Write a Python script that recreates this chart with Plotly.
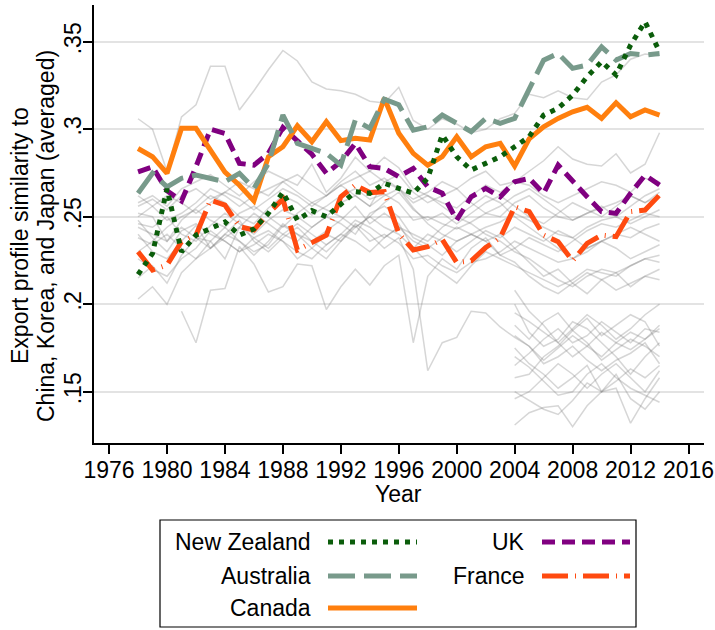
import plotly.graph_objects as go

# ---------------- data ----------------
years = list(range(1978, 2015))
years_81 = list(range(1981, 2015))
years_04 = list(range(2004, 2015))

new_zealand = [.217, .229, .266, .230, .2395, .243, .247, .2395, .243, .252, .264, .248, .2535,
               .250, .2567, .2643, .2634, .2691, .2662, .2634, .272, .2967, .2843, .2767, .2805,
               .2843, .290, .2957, .3081, .312, .3195, .330, .3386, .331, .3481, .3614, .3443]
australia = [.2634, .2748, .2671, .272, .2738, .272, .270, .2748, .2662, .2805, .3081, .2919, .289,
             .2862, .2795, .3053, .3005, .3172, .314, .2995, .3014, .3081, .3034, .2986, .3062,
             .3034, .3062, .3228, .3395, .3433, .3348, .3367, .3471, .3395, .3433, .3424, .3433]
canada = [.289, .2843, .2748, .3005, .3005, .2881, .2755, .268, .259, .2843, .290, .302, .2929,
          .3043, .2935, .2948, .2938, .3177, .2977, .2862, .2795, .2843, .2957, .2843, .290,
          .2919, .279, .2945, .3014, .3062, .310, .3125, .3062, .3151, .3071, .311, .3081]
uk = [.2757, .2785, .2648, .259, .2786, .3, .2976, .2805, .2795, .2862, .301, .293, .2857, .2748,
      .2814, .2919, .2786, .2776, .2729, .2776, .2671, .2634, .2481, .2614, .2662, .2614, .270,
      .2719, .2634, .2795, .270, .2614, .2529, .2519, .2634, .2738, .2681]
france = [.230, .2195, .2224, .2357, .2395, .2595, .2567, .2443, .2424, .252, .2600, .231, .2352,
          .2395, .2614, .2681, .2638, .2643, .2405, .231, .2329, .237, .2238, .2248, .2324, .238,
          .2557, .2529, .2395, .2357, .2248, .2348, .2395, .2386, .2529, .2538, .2624]

# other countries (grey background lines), 1978-2014
grey_full = [
    [.306, .300, .276, .307, .314, .336, .336, .311, .322, .334, .345, .339, .327, .323, .322, .320,
     .316, .315, .324, .305, .300, .306, .303, .298, .300, .306, .309, .320, .318, .322, .318, .317,
     .327, .331, .340, .343, .342],
    [.256, .260, .254, .262, .266, .260, .264, .270, .266, .262, .270, .274, .268, .262, .268, .272,
     .276, .270, .266, .260, .264, .270, .266, .272, .276, .268, .270, .276, .282, .290, .283, .280,
     .279, .286, .275, .280, .298],
    [.252, .250, .236, .248, .255, .262, .258, .250, .246, .255, .262, .258, .251, .256, .262, .266,
     .260, .263, .258, .248, .250, .246, .243, .247, .252, .250, .258, .262, .255, .250, .248, .252,
     .255, .258, .262, .258, .264],
    [.246, .244, .250, .240, .236, .245, .252, .246, .240, .248, .254, .250, .244, .250, .258, .262,
     .256, .262, .266, .255, .246, .240, .236, .240, .244, .247, .252, .248, .244, .240, .238, .244,
     .248, .250, .246, .250, .254],
    [.240, .230, .226, .236, .245, .232, .240, .236, .230, .234, .245, .240, .236, .230, .238, .245,
     .236, .240, .235, .226, .228, .222, .218, .224, .226, .230, .236, .232, .228, .224, .226, .232,
     .236, .240, .238, .243, .246],
    [.215, .222, .212, .228, .238, .236, .226, .244, .252, .246, .240, .236, .244, .250, .246, .240,
     .252, .256, .250, .238, .234, .228, .236, .240, .236, .228, .232, .238, .234, .230, .236, .242,
     .246, .244, .248, .252, .250],
    [.258, .262, .256, .266, .270, .274, .268, .262, .270, .276, .272, .268, .280, .264, .272, .284,
     .276, .284, .278, .266, .262, .258, .255, .262, .268, .264, .270, .268, .262, .258, .262, .266,
     .270, .268, .264, .272, .270],
    [.203, .210, .200, .218, .226, .232, .240, .248, .236, .230, .238, .244, .236, .242, .248, .256,
     .246, .252, .246, .232, .224, .218, .212, .222, .230, .226, .222, .218, .214, .210, .214, .220,
     .218, .216, .222, .226, .228],
    [.238, .234, .240, .232, .226, .236, .244, .236, .228, .236, .246, .240, .232, .226, .236, .246,
     .240, .232, .238, .220, .162, .178, .181, .196, .195, .187, .181, .176, .168, .175, .182, .176,
     .170, .178, .184, .180, .186],
    [.262, .256, .248, .252, .258, .266, .262, .256, .262, .266, .270, .264, .258, .262, .270, .276,
     .268, .272, .266, .258, .262, .256, .250, .256, .262, .258, .250, .244, .238, .232, .226, .230,
     .236, .232, .226, .230, .234],
    [.248, .238, .230, .242, .246, .240, .236, .230, .238, .242, .236, .230, .226, .234, .240, .236,
     .230, .238, .244, .240, .236, .244, .250, .246, .240, .236, .230, .226, .220, .214, .210, .216,
     .220, .218, .222, .226, .224],
    [.230, .236, .244, .250, .254, .248, .244, .252, .256, .250, .244, .252, .258, .254, .250, .244,
     .250, .258, .264, .254, .248, .252, .246, .252, .258, .262, .256, .250, .246, .252, .258, .254,
     .250, .256, .262, .258, .262],
    [.244, .240, .236, .244, .238, .232, .238, .244, .238, .232, .240, .246, .240, .234, .240, .248,
     .244, .238, .244, .236, .232, .238, .244, .240, .236, .240, .232, .224, .216, .220, .212, .206,
     .214, .218, .210, .216, .220],
    [.226, .220, .216, .226, .232, .242, .236, .230, .234, .240, .236, .226, .232, .240, .236, .244,
     .250, .244, .240, .232, .240, .236, .230, .236, .242, .238, .244, .240, .236, .242, .238, .232,
     .236, .240, .244, .240, .236],
    [.250, .256, .262, .258, .252, .258, .264, .260, .254, .260, .266, .262, .256, .262, .268, .262,
     .256, .270, .274, .264, .258, .262, .266, .258, .252, .256, .262, .266, .260, .254, .248, .252,
     .256, .250, .256, .262, .266],
]
# a country observed from 1981
grey_81 = [.196, .178, .208, .209, .233, .223, .207, .210, .223, .222, .197, .210, .220, .211, .222,
           .228, .178, .216, .226, .220, .232, .238, .228, .224, .216, .210, .206, .212, .218, .214,
           .208, .212, .216, .214]
# countries observed from 2004
grey_04 = [
    [.131, .138, .141, .142, .130, .142, .150, .152, .132, .146, .158],
    [.150, .145, .140, .137, .145, .155, .150, .160, .146, .140, .150],
    [.175, .166, .160, .152, .158, .165, .150, .156, .163, .158, .165],
    [.200, .184, .176, .180, .190, .186, .178, .170, .160, .170, .178],
    [.165, .172, .180, .186, .178, .182, .190, .184, .178, .186, .184],
    [.188, .180, .190, .195, .185, .192, .182, .188, .194, .190, .176],
    [.158, .160, .170, .176, .185, .178, .168, .174, .180, .176, .170],
    [.195, .190, .184, .178, .170, .176, .184, .178, .174, .180, .188],
    [.182, .176, .166, .170, .176, .168, .162, .168, .172, .178, .166],
    [.146, .150, .158, .166, .160, .152, .160, .166, .158, .150, .162],
    [.170, .164, .156, .148, .150, .160, .166, .158, .152, .148, .144],
    [.208, .196, .188, .178, .186, .194, .188, .180, .186, .194, .200],
]

y_ticks = [0.15, 0.2, 0.25, 0.3, 0.35]
y_ticklabels = [".15", ".2", ".25", ".3", ".35"]
x_ticks = list(range(1976, 2017, 4))

# ---------------- styling ----------------
W, H = 715, 630
L, R, T, B = 94, 704, 5, 443
FONT = "Liberation Sans, Arial, Helvetica, sans-serif"
FS = 23


def px(x):
    return (x - L) / (R - L)


def py(y):
    return (B - y) / (B - T)


GREY = "rgba(120,120,120,0.3)"
styles = {
    "New Zealand": dict(color="#0b5d0b", dash="5px,6px"),
    "Australia": dict(color="#789a8b", dash="27px,9px"),
    "Canada": dict(color="#ff7f0e", dash="solid"),
    "UK": dict(color="#800080", dash="13px,7px"),
    "France": dict(color="#ff4a10", dash="26px,7px,1px,7px"),
}
LW = 5

fig = go.Figure()
for s in grey_full:
    fig.add_trace(go.Scatter(x=years, y=s, mode="lines", line=dict(color=GREY, width=1.5),
                             hoverinfo="skip", showlegend=False))
fig.add_trace(go.Scatter(x=years_81, y=grey_81, mode="lines", line=dict(color=GREY, width=1.5),
                         hoverinfo="skip", showlegend=False))
for s in grey_04:
    fig.add_trace(go.Scatter(x=years_04, y=s, mode="lines", line=dict(color=GREY, width=1.5),
                             hoverinfo="skip", showlegend=False))

main = [("France", france), ("UK", uk), ("Canada", canada), ("Australia", australia),
        ("New Zealand", new_zealand)]
for name, vals in main:
    st = styles[name]
    fig.add_trace(go.Scatter(x=years, y=vals, mode="lines", name=name,
                             line=dict(color=st["color"], width=LW, dash=st["dash"]),
                             showlegend=False))

# ---------------- manual legend (text left of key, as in the original) ----------------
shapes = [dict(type="rect", xref="paper", yref="paper", x0=px(160), x1=px(636), y0=py(520),
               y1=py(627), line=dict(color="black", width=1.2), fillcolor="white", layer="below")]
annotations = []
legend_items = [
    ("New Zealand", 313, 328, 417, 542),
    ("Australia", 313, 328, 417, 576),
    ("Canada", 313, 328, 417, 608),
    ("UK", 527, 542, 630, 542),
    ("France", 527, 542, 630, 576),
]
for name, tx, lx0, lx1, yy in legend_items:
    st = styles[name]
    annotations.append(dict(text=name, xref="paper", yref="paper", x=px(tx), y=py(yy),
                            xanchor="right", yanchor="middle", showarrow=False,
                            font=dict(size=FS, color="black", family=FONT)))
    shapes.append(dict(type="line", xref="paper", yref="paper", x0=px(lx0), x1=px(lx1),
                       y0=py(yy), y1=py(yy),
                       line=dict(color=st["color"], width=LW, dash=st["dash"])))

for txt, cx in [("Export profile similarity to", 20), ("China, Korea, and Japan (averaged)", 46)]:
    annotations.append(dict(text=txt, xref="paper", yref="paper", x=px(cx), y=py(236),
                            textangle=-90, xanchor="center", yanchor="middle", showarrow=False,
                            font=dict(size=FS, color="black", family=FONT)))
annotations.append(dict(text="Year", xref="paper", yref="paper", x=px(398), y=py(494),
                        xanchor="center", yanchor="middle", showarrow=False,
                        font=dict(size=FS, color="black", family=FONT)))

fig.update_layout(
    width=W, height=H,
    margin=dict(l=L, r=W - R, t=T, b=H - B, pad=0, autoexpand=False),
    paper_bgcolor="white", plot_bgcolor="white",
    font=dict(family=FONT, size=FS, color="black"),
    showlegend=False,
    shapes=shapes, annotations=annotations,
)
fig.update_xaxes(range=[1974.96, 2017.07], tickvals=x_ticks, ticks="outside", ticklen=9,
                 tickwidth=1.5, tickcolor="black", showline=True, linecolor="black", linewidth=1.5,
                 showgrid=False, zeroline=False, tickfont=dict(size=FS), automargin=False,
                 ticklabelstandoff=-3)
fig.update_yaxes(range=[0.1207, 0.371], tickvals=y_ticks, ticktext=y_ticklabels, ticks="outside",
                 ticklen=9, tickwidth=1.5, tickcolor="black", showline=True, linecolor="black",
                 linewidth=1.5, showgrid=True, gridcolor="#e3e3e3", gridwidth=1.5, zeroline=False,
                 tickangle=-90, tickfont=dict(size=FS), automargin=False, ticklabelstandoff=-7)

fig.write_html("out.html", config={"displayModeBar": False},
               post_script="document.body.style.margin='0';document.body.style.padding='0';")
